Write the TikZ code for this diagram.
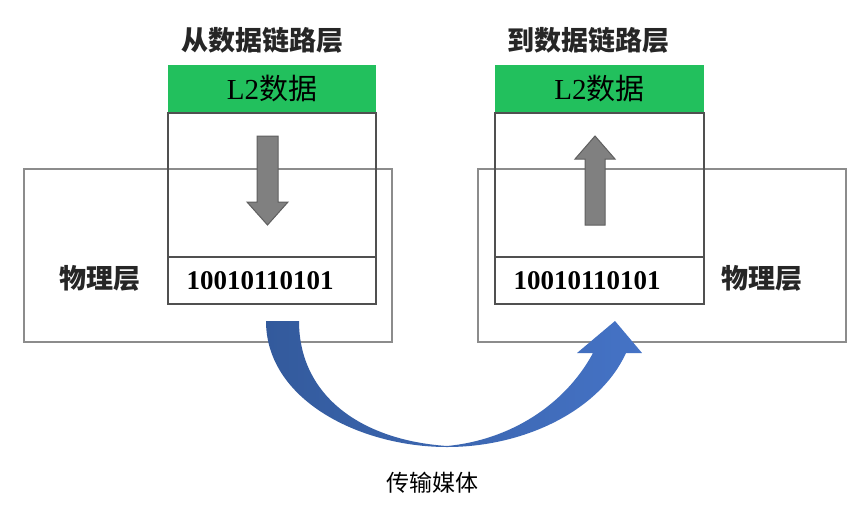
\documentclass[tikz,border=0pt]{standalone}
\usepackage{fontspec}
\setmainfont{Liberation Serif}
\newfontfamily\cjk{Noto Sans CJK SC}
\definecolor{bigline}{HTML}{8C8C8C}
\definecolor{colline}{HTML}{505050}
\definecolor{l2green}{HTML}{22C05D}
\definecolor{arrowgray}{HTML}{808080}
\definecolor{arrowedge}{HTML}{5F5F5F}
\definecolor{blueL}{HTML}{335A9C}
\definecolor{blueR}{HTML}{4573C6}
\definecolor{txt}{HTML}{262626}
\begin{document}
\begin{tikzpicture}[x=1pt,y=-1pt,
  bigbox/.style={draw=bigline, line width=1.4pt, inner sep=0pt},
  colbox/.style={draw=colline, line width=1.4pt, inner sep=0pt},
  greenbox/.style={fill=l2green, inner sep=0pt, text=black, font=\fontsize{29}{32}\selectfont},
  title/.style={text=txt, font=\fontsize{27}{30}\selectfont\cjk\bfseries, inner sep=0pt},
  bits/.style={text=black, font=\fontsize{27}{30}\selectfont\bfseries, inner sep=0pt},
  grayarrow/.style={fill=arrowgray, draw=arrowedge, line width=1pt},
  media/.style={text=black, font=\fontsize{23}{26}\selectfont\cjk, inner sep=0pt}
]
\useasboundingbox (0,0) rectangle (864,512);
\fill[white] (0,0) rectangle (864,512);

% physical layer boxes
\node[bigbox, minimum width=368pt, minimum height=173pt] (phy1) at (208,255.5) {};
\node[bigbox, minimum width=368pt, minimum height=173pt] (phy2) at (662,255.5) {};

% left column
\node[greenbox, minimum width=208pt, minimum height=48pt] (g1) at (272,89) {L2{\cjk 数据}};
\node[colbox, minimum width=208pt, minimum height=144pt] (d1) at (272,185) {};
\node[colbox, minimum width=208pt, minimum height=47pt] (b1) at (272,280.5) {};
\node[bits, anchor=west] (t1) at ([xshift=19pt]b1.west) {10010110101};

% right column
\node[greenbox, minimum width=209pt, minimum height=48pt] (g2) at (599.5,89) {L2{\cjk 数据}};
\node[colbox, minimum width=209pt, minimum height=144pt] (d2) at (599.5,185) {};
\node[colbox, minimum width=209pt, minimum height=47pt] (b2) at (599.5,280.5) {};
\node[bits, anchor=west] (t2) at ([xshift=19pt]b2.west) {10010110101};

% titles and labels
\node[title] (h1) at (262,40) {从数据链路层};
\node[title] (h2) at (588,40) {到数据链路层};
\node[title] (p1) at (100,278) {物理层};
\node[title] (p2) at (762,278) {物理层};

% gray arrows
\draw[grayarrow] (257,136) -- (278,136) -- (278,202) -- (288,202) -- (267.5,225) -- (247,202) -- (257,202) -- cycle;
\draw[grayarrow] (585,225) -- (605,225) -- (605,159) -- (615,159) -- (595,136) -- (575,159) -- (585,159) -- cycle;

% blue curved arrow (transmission medium)
\coordinate (s1) at (266,321);
\coordinate (bot) at (447,447);
\shade[left color=blueL, right color=blueR]
  (s1) .. controls (266,400) and (360,447) .. (bot)
  .. controls (525,447) and (600,410) .. (626,353)
  -- (642,353) -- (615,321) -- (577,353) -- (593,353)
  .. controls (565,405) and (510,440) .. (447,446)
  .. controls (360,440) and (299,395) .. (299,321) -- cycle;

\node[media] (m) at (432,483) {传输媒体};
\end{tikzpicture}
\end{document}
